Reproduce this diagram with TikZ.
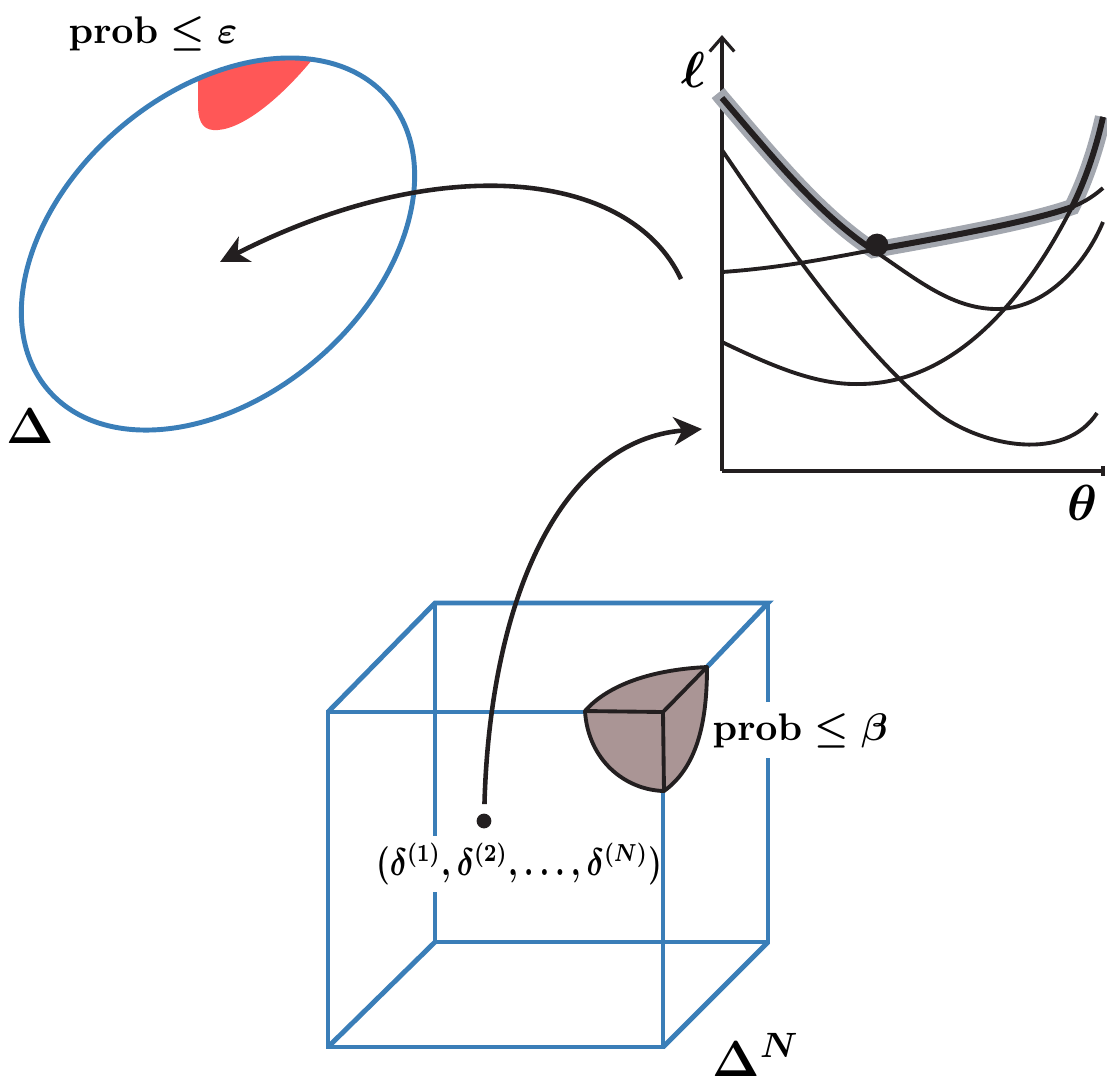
\documentclass[tikz,border=0pt]{standalone}
\usepackage{amsmath,amssymb,graphicx}
\usetikzlibrary{arrows.meta}

\definecolor{setblue}{RGB}{58,126,184}
\definecolor{riskred}{RGB}{255,87,87}
\definecolor{badbrown}{RGB}{170,149,149}
\definecolor{envgray}{RGB}{163,167,175}
\definecolor{ink}{RGB}{35,31,32}

\begin{document}
\begin{tikzpicture}[
  x=0.1mm, y=-0.1mm,
  setline/.style={setblue,line width=1.4pt},
  curve/.style={ink,line width=1.1pt},
  envelope/.style={ink,line width=1.7pt},
  highlight/.style={envgray,line width=4.6pt},
  flow/.style={ink,-{Stealth[length=8pt,width=8pt,inset=2.4pt]},line width=1.3pt},
  axis/.style={ink,line width=0.9pt},
  pointmark/.style={circle,fill=ink,inner sep=0pt,minimum size=#1},
  lbl/.style={inner sep=0pt,font=\fontsize{11}{13}\selectfont\boldmath},
  biglbl/.style={inner sep=0pt,font=\fontsize{14}{16}\selectfont\boldmath}
]
  \useasboundingbox (0,0) rectangle (1107,1083);

  % uncertainty set with the violation region
  \begin{scope}
    \clip[shift={(218,244)},rotate=40.7] (0,0) ellipse[x radius=224,y radius=152];
    \fill[riskred] (198,30) -- (198,105) .. controls (198,125) and (205,131) .. (218,130)
      .. controls (245,128) and (285,95) .. (320,50) -- (320,30) -- cycle;
  \end{scope}
  \draw[setline,shift={(218,244)},rotate=40.7] (0,0) ellipse[x radius=224,y radius=152];
  \node[lbl,anchor=base west] (epslabel) at (68,43) {$\mathbf{prob}\le\varepsilon$};
  \node[biglbl,anchor=base] (setlabel) at (30,443) {$\Delta$};

  % losses over theta
  \coordinate (origin) at (722,471);
  \draw[axis,-{Straight Barb[length=4pt,width=7pt]}] (origin) -- (722,35);
  \draw[axis] (origin) -- (1103,471) ++(0,-5) -- ++(0,10);
  \node[biglbl] (elllabel) at (693,70) {$\ell$};
  \node[biglbl] (thetalabel) at (1083,503) {$\theta$};

  \draw[highlight] (718,93) -- (722,98) .. controls (775,160) and (820,215) .. (873,250)
    .. controls (940,238) and (1030,222) .. (1072,207)
    .. controls (1088,175) and (1098,140) .. (1103,117);
  \draw[curve] (722,98) .. controls (775,160) and (820,215) .. (873,250)
    .. controls (915,278) and (950,308) .. (995,309)
    .. controls (1045,310) and (1085,265) .. (1103,222);
  \draw[curve] (722,272) .. controls (780,268) and (830,258) .. (873,250)
    .. controls (940,238) and (1030,222) .. (1072,207)
    .. controls (1085,202) and (1095,195) .. (1103,188);
  \draw[curve] (722,342) .. controls (780,370) and (820,385) .. (860,384)
    .. controls (960,383) and (1030,290) .. (1072,207)
    .. controls (1088,175) and (1098,140) .. (1103,117);
  \draw[curve] (722,150) .. controls (800,265) and (870,360) .. (940,415)
    .. controls (985,447) and (1065,462) .. (1097,413);
  \draw[envelope] (722,98) .. controls (775,160) and (820,215) .. (873,250)
    .. controls (940,238) and (1030,222) .. (1072,207)
    .. controls (1088,175) and (1098,140) .. (1103,117);
  \node[pointmark=6.5pt] (opt) at (877,245) {};

  % sample space as a cube
  \coordinate (f1) at (328,712);
  \coordinate (f2) at (663,712);
  \coordinate (f3) at (663,1047);
  \coordinate (f4) at (328,1047);
  \coordinate (b1) at (435,603);
  \coordinate (b2) at (768,603);
  \coordinate (b3) at (768,942);
  \coordinate (b4) at (435,942);
  \draw[setline] (585,712) -- (f1) -- (f4) -- (f3) -- (663,791);
  \draw[setline] (f1) -- (b1) -- (b2) -- (707,667);
  \draw[setline] (b1) -- (435,836);
  \draw[setline] (435,892) -- (b4) -- (b3) -- (768,758);
  \draw[setline] (768,702) -- (b2);
  \draw[setline] (f4) -- (b4);
  \draw[setline] (f3) -- (b3);

  \draw[ink,line width=1.1pt,fill=badbrown,line join=round] (585,711)
    .. controls (605,688) and (645,670) .. (707,667)
    .. controls (707,715) and (700,765) .. (664,791)
    .. controls (625,790) and (588,760) .. (585,711) -- cycle;
  \draw[ink,line width=1.1pt,line join=round] (585,711) -- (f2) -- (707,667) (f2) -- (664,791);
  \node[lbl,anchor=base west] (betalabel) at (712,740) {$\mathbf{prob}\le\beta$};
  \node[biglbl,anchor=base west] (productlabel) at (712,1076) {$\Delta^{N}$};

  \node[pointmark=4.2pt] (sample) at (484,821) {};
  \node[lbl,font=\fontsize{10.5}{12}\selectfont\boldmath,anchor=base] (samplelabel) at (519,875)
    {\scalebox{0.8}[1]{$(\delta^{(1)}{,}\,\delta^{(2)}{,}\ldots{,}\,\delta^{(N)})$}};

  % maps between the pictures
  \coordinate (graphout) at (681,279);
  \coordinate (setcentre) at (220,262);
  \coordinate (graphin) at (702,429);
  \draw[flow] (graphout) .. controls (630,170) and (440,150) .. (setcentre);
  \draw[flow,shorten <=2.5pt] (sample) .. controls (490,600) and (560,440) .. (graphin);
\end{tikzpicture}
\end{document}
